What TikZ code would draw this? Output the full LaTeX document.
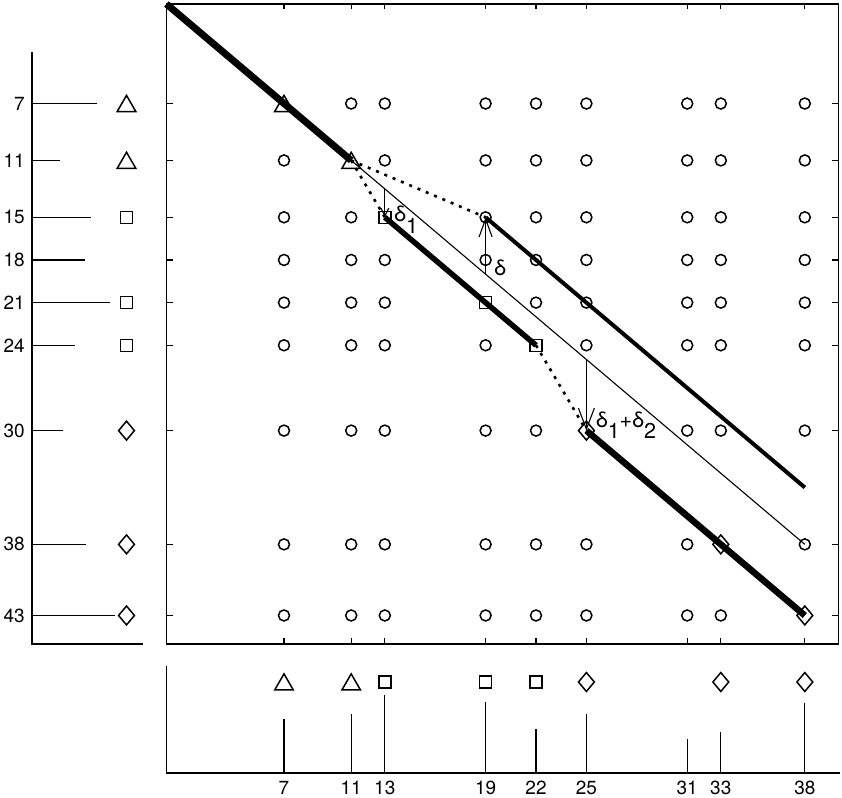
\documentclass[tikz,border=0pt]{standalone}
\usepackage{fontspec}
\setmainfont{TeX Gyre Heros}
\usetikzlibrary{arrows.meta,shapes.geometric}

\begin{document}
\begin{tikzpicture}[x=1pt,y=-1pt,
 every node/.style={font=\fontsize{19}{21}\selectfont,inner sep=1pt},
 frame/.style={line width=1.4pt},
 tick/.style={line width=1.2pt},
 bar/.style={line width=1.3pt},
 circ/.style={draw,circle,line width=1.5pt,inner sep=0pt,minimum size=11pt},
 tri/.style={draw,regular polygon,regular polygon sides=3,line width=1.5pt,inner sep=0pt,minimum size=21.5pt,yshift=-2.6pt},
 sq/.style={draw,rectangle,line width=1.5pt,inner sep=0pt,minimum size=12pt},
 dia/.style={draw,diamond,line width=1.5pt,inner sep=0pt,minimum width=16.5pt,minimum height=19.5pt},
 fat/.style={line width=#1},
 dots/.style={line width=2.6pt,dash pattern=on 3pt off 6pt},
 guide/.style={line width=1.1pt},
 delta/.style={-{Straight Barb[#1]},line width=1.1pt},
 dlab/.style={anchor=base west,font=\fontsize{21.5}{23}\selectfont}]
\useasboundingbox (0,0) rectangle (842,797);

% main panel
\begin{scope}[xshift=166.4pt,yshift=-4pt,x=16.8pt,y=-14.22pt]
\foreach \c in {7,11,13,19,22,25,31,33,38}
 \foreach \r in {7,11,15,18,21,24,30,38,43}
  \coordinate (p-\c-\r) at (\c,\r);
\coordinate (corner) at (0,0);
\coordinate (tail) at (38,34);
\coordinate (d-1) at (13,13);
\coordinate (d-0) at (19,19);
\coordinate (d-12) at (25,25);
\foreach \c/\r/\m in {7/7/tri,11/11/tri,13/15/sq,19/21/sq,22/24/sq,25/30/dia,33/38/dia,38/43/dia}{
 \node[\m] (m-\c-\r) at (p-\c-\r) {};
 \expandafter\gdef\csname sp-\c-\r\endcsname{}}
\foreach \c in {7,11,13,19,22,25,31,33,38}
 \foreach \r in {7,11,15,18,21,24,30,38,43}{
  \ifcsname sp-\c-\r\endcsname\else\node[circ] (o-\c-\r) at (p-\c-\r) {};\fi}
\draw[fat=7pt] (corner) -- (p-11-11);
\draw[dots] (p-11-11) -- (p-13-15);
\draw[dots] (p-11-11) -- (p-19-15);
\draw[fat=5.5pt] (p-13-15) -- (p-22-24);
\draw[fat=4pt] (p-19-15) -- (tail);
\draw[dots] (p-22-24) -- (p-25-30);
\draw[fat=6.5pt] (p-25-30) -- (p-38-43);
\draw[guide] (p-11-11) -- (p-38-38);
\draw[delta={length=8pt,width=8pt}] (d-1) -- (p-13-15);
\draw[delta={length=18pt,width=13pt}] (d-0) -- (p-19-15);
\draw[delta={length=21pt,width=16pt}] (d-12) -- (p-25-30);
\node[dlab] (l-1) at (13.5,15.33) {δ\raisebox{-.55em}{1}};
\node[dlab] (l-0) at (19.45,19.06) {δ};
\node[dlab] (l-12) at (25.5,29.75) {δ\raisebox{-.55em}{1}+δ\raisebox{-.55em}{2}};
\draw[frame] (0,0) rectangle (40,45);
\foreach \c in {7,11,13,19,22,25,31,33,38}{
 \draw[tick] (\c,0) -- ++(0pt,-5.5pt);
 \draw[tick] (\c,45) -- ++(0pt,5.5pt);}
\foreach \r in {7,11,15,18,21,24,30,38,43}{
 \draw[tick] (0,\r) -- ++(6.5pt,0pt);
 \draw[tick] (40,\r) -- ++(-6.5pt,0pt);}
\end{scope}

% left panel
\begin{scope}[yshift=-4pt,y=-14.22pt]
\draw[frame] (32,3.4) -- (32,45) -- (143,45);
\foreach \r/\l in {7/97,11/60,15/91,18/85,21/110,24/75,30/63,38/86,43/115}{
 \draw[bar] (32,\r) -- (\l,\r);
 \node[anchor=east] (yl-\r) at (26,\r) {\r};}
\foreach \r/\m in {7/tri,11/tri,15/sq,21/sq,24/sq,30/dia,38/dia,43/dia}
 \node[\m] (lm-\r) at (126.5,\r) {};
\end{scope}

% bottom panel
\begin{scope}[xshift=166.4pt,x=16.8pt]
\draw[frame] (0,666) -- (0,773) -- (40.1,773);
\foreach \c/\t in {7/719,11/714,13/695,19/702,22/729,25/714,31/739,33/732,38/703}{
 \draw[bar] (\c,773) -- (\c,\t);
 \node (xl-\c) at (\c,787.5) {\c};}
\foreach \c/\m in {7/tri,11/tri,13/sq,19/sq,22/sq,25/dia,33/dia,38/dia}
 \node[\m] (bm-\c) at (\c,682) {};
\end{scope}
\end{tikzpicture}
\end{document}
